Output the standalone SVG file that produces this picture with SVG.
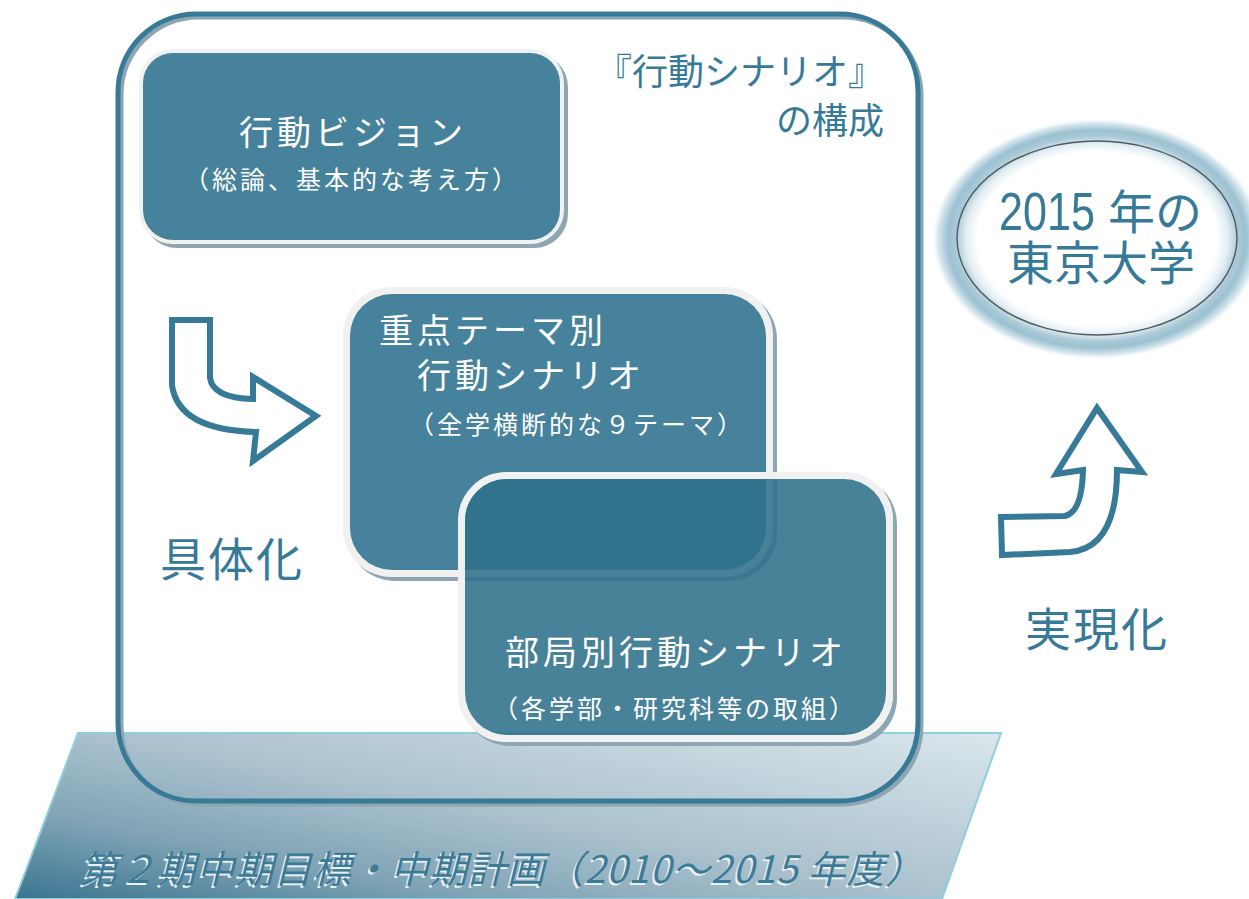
<svg xmlns="http://www.w3.org/2000/svg" width="1249" height="899" viewBox="0 0 1249 899">
  <defs>
    <linearGradient id="gPlane" gradientUnits="userSpaceOnUse" x1="15" y1="899" x2="81" y2="556">
      <stop offset="0" stop-color="#3a7590"/>
      <stop offset="0.25" stop-color="#7fa3b5"/>
      <stop offset="0.5" stop-color="#aac1cd"/>
      <stop offset="1" stop-color="#dae6ec"/>
    </linearGradient>
    <radialGradient id="gHalo" cx="0.5" cy="0.5" r="0.5">
      <stop offset="0" stop-color="#ffffff"/>
      <stop offset="0.72" stop-color="#ffffff"/>
      <stop offset="0.79" stop-color="#e3eef3"/>
      <stop offset="0.85" stop-color="#a9c9d7"/>
      <stop offset="0.9" stop-color="#9cc1d2"/>
      <stop offset="0.96" stop-color="#dae9ef"/>
      <stop offset="1" stop-color="#ffffff" stop-opacity="0"/>
    </radialGradient>
    <mask id="mBox3">
      <rect x="0" y="0" width="1249" height="899" fill="#fff"/>
      <rect x="458" y="472" width="435" height="270" rx="48" fill="#000"/>
    </mask>
  </defs>
  <style>
    .cj { font-family: "Noto Sans CJK JP", "Noto Sans CJK SC", sans-serif; }
    .w { fill: #ffffff; }
    .t { fill: #377a98; }
    .big { font-size: 34px; letter-spacing: 4px; }
    .small { font-size: 25px; letter-spacing: 3px; }
    .boxfill { fill: #46829b; }
    .ring { fill: none; stroke: #f1f1f1; stroke-width: 7; }
    .shadow { fill: #8ea6b2; }
    .arrow { fill: #ffffff; stroke: #377a97; stroke-width: 6; stroke-linejoin: miter; }
  </style>

  <!-- base plane -->
  <g id="plane">
    <polygon points="78,733 1001,733 942,899 15,899" fill="url(#gPlane)" stroke="#8fcedc" stroke-width="2"/>
    <text class="cj" x="78" y="885" font-size="38" letter-spacing="0.8" font-style="italic" fill="#e9eff2">第２期中期目標・中期計画（2010～2015 年度）</text>
    <text class="cj" x="80" y="883" font-size="38" letter-spacing="0.8" font-style="italic" fill="#3c7b97">第２期中期目標・中期計画（2010～2015 年度）</text>
  </g>

  <!-- outer frame -->
  <g id="frame">
    <rect x="121" y="17" width="800" height="787" rx="78" fill="none" stroke="#8ca6b2" stroke-width="5"/>
    <rect x="118" y="14" width="800" height="787" rx="78" fill="none" stroke="#377a98" stroke-width="5"/>
    <text class="cj t" x="884" y="85" font-size="36" text-anchor="end">『行動シナリオ』</text>
    <text class="cj t" x="884" y="134" font-size="36" text-anchor="end">の構成</text>
  </g>

  <!-- box 1 -->
  <g id="box-vision">
    <rect class="shadow" x="143" y="53" width="425" height="195" rx="34"/>
    <rect x="139" y="49" width="425" height="195" rx="34" fill="#f1f1f1"/>
    <rect class="boxfill" x="143" y="53" width="417" height="187" rx="30"/>
    <text class="cj w big" x="353" y="145" text-anchor="middle">行動ビジョン</text>
    <text class="cj w small" x="352" y="189" text-anchor="middle">（総論、基本的な考え方）</text>
  </g>

  <!-- box 2 -->
  <g id="box-theme">
    <rect class="shadow" x="347" y="291" width="430" height="290" rx="48"/>
    <rect x="343" y="287" width="430" height="290" rx="48" fill="#f1f1f1"/>
    <rect class="boxfill" x="350" y="294" width="416" height="276" rx="42"/>
    <text class="cj w big" x="379" y="343">重点テーマ別</text>
    <text class="cj w big" x="417" y="388">行動シナリオ</text>
    <text class="cj w small" x="409" y="434">（全学横断的な９テーマ）</text>
  </g>

  <!-- box 3 -->
  <g id="box-dept">
    <rect class="shadow" x="462" y="476" width="435" height="270" rx="48" mask="url(#mBox3)"/>
    <rect class="ring" x="461.5" y="475.5" width="428" height="263" rx="45"/>
    <rect x="465" y="479" width="421" height="256" rx="42" fill="#2f718b" fill-opacity="0.88"/>
    <text class="cj w big" x="676" y="665" text-anchor="middle">部局別行動シナリオ</text>
    <text class="cj w small" x="675" y="718" text-anchor="middle">（各学部・研究科等の取組）</text>
  </g>

  <!-- goal ellipse -->
  <g id="goal">
    <ellipse cx="1097" cy="239" rx="166" ry="121" fill="url(#gHalo)"/>
    <ellipse cx="1097" cy="238" rx="140" ry="97" fill="none" stroke="#4f5a5e" stroke-width="1.4"/>
    <text class="cj t" font-size="47"><tspan x="999" y="230" font-family="Liberation Sans, sans-serif" font-size="54" textLength="96" lengthAdjust="spacingAndGlyphs">2015</tspan><tspan x="1108" y="229">年の</tspan><tspan x="1101" y="280" text-anchor="middle">東京大学</tspan></text>
  </g>

  <!-- connectors -->
  <g id="connectors">
    <path class="arrow" d="M172,320 L210,320 L210,378 Q213,398 253,399 L253,377 L316,416 L253,461 L256,432 Q178,430 172,385 Z"/>
    <path class="arrow" d="M1001,517 L1065,516 Q1082,512 1083,470 L1056,474 L1097,408 L1142,472 L1117,470 Q1117,548 1070,552 L1002,555 Z"/>
    <text class="cj t" x="160" y="576" font-size="46" letter-spacing="2">具体化</text>
    <text class="cj t" x="1025" y="646" font-size="46" letter-spacing="2">実現化</text>
  </g>
</svg>
